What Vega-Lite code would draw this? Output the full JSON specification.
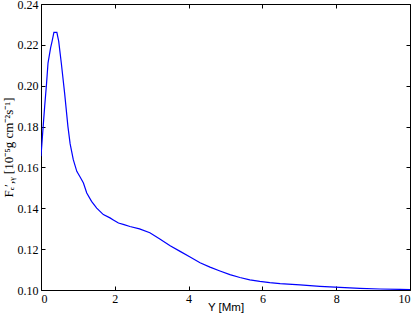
{
  "$schema": "https://vega.github.io/schema/vega-lite/v6.json",
  "width": 369,
  "height": 286,
  "autosize": {"type": "none"},
  "padding": {"left": 41, "top": 4, "right": 5, "bottom": 26},
  "background": "white",
  "config": {
    "view": {"stroke": "black", "strokeWidth": 1},
    "axis": {
      "domain": false,
      "grid": false,
      "ticks": true,
      "tickColor": "black",
      "tickSize": -4,
      "tickWidth": 1,
      "labelFont": "Liberation Serif",
      "labelFontSize": 12,
      "labelColor": "black",
      "labelPadding": 7,
      "titleColor": "black",
      "titleFontWeight": "normal"
    }
  },
  "data": {
    "values": [
      {"x": 0, "y": 0.1655},
      {"x": 0.05, "y": 0.178},
      {"x": 0.1, "y": 0.19},
      {"x": 0.15, "y": 0.201},
      {"x": 0.19, "y": 0.2111},
      {"x": 0.26, "y": 0.2185},
      {"x": 0.3, "y": 0.2217},
      {"x": 0.35, "y": 0.2261},
      {"x": 0.43, "y": 0.2261},
      {"x": 0.48, "y": 0.2217},
      {"x": 0.55, "y": 0.2111},
      {"x": 0.64, "y": 0.1964},
      {"x": 0.73, "y": 0.18},
      {"x": 0.79, "y": 0.1715},
      {"x": 0.875, "y": 0.1638},
      {"x": 0.97, "y": 0.1581},
      {"x": 1.06, "y": 0.1553},
      {"x": 1.15, "y": 0.1524},
      {"x": 1.24, "y": 0.1475},
      {"x": 1.37, "y": 0.1434},
      {"x": 1.51, "y": 0.1401},
      {"x": 1.69, "y": 0.1369},
      {"x": 1.87, "y": 0.1353},
      {"x": 1.96, "y": 0.1343},
      {"x": 2.1, "y": 0.1328},
      {"x": 2.25, "y": 0.132},
      {"x": 2.41, "y": 0.1311},
      {"x": 2.67, "y": 0.1299},
      {"x": 2.95, "y": 0.128},
      {"x": 3.22, "y": 0.125},
      {"x": 3.5, "y": 0.1217},
      {"x": 3.77, "y": 0.1189},
      {"x": 4.04, "y": 0.1162},
      {"x": 4.31, "y": 0.1133},
      {"x": 4.58, "y": 0.1112},
      {"x": 4.85, "y": 0.1093},
      {"x": 5.12, "y": 0.1075},
      {"x": 5.39, "y": 0.1061},
      {"x": 5.66, "y": 0.105},
      {"x": 5.93, "y": 0.1042},
      {"x": 6.2, "y": 0.1036},
      {"x": 6.48, "y": 0.1031},
      {"x": 7.02, "y": 0.1025},
      {"x": 7.56, "y": 0.1018},
      {"x": 8.1, "y": 0.1013},
      {"x": 8.64, "y": 0.1008},
      {"x": 9.19, "y": 0.1005},
      {"x": 9.73, "y": 0.1003},
      {"x": 10, "y": 0.1002}
    ]
  },
  "layer": [
    {
      "mark": {"type": "line", "color": "#0000ff", "strokeWidth": 1.2, "clip": true},
      "encoding": {
        "x": {
          "field": "x", "type": "quantitative",
          "scale": {"domain": [0, 10], "nice": false, "zero": false},
          "axis": {"orient": "bottom", "values": [0, 2, 4, 6, 8, 10], "title": "Y [Mm]", "titleFont": "Liberation Sans", "titleFontSize": 11.5, "titleBaseline": "alphabetic", "titleY": 20.5, "titleX": 184.5}
        },
        "y": {
          "field": "y", "type": "quantitative",
          "scale": {"domain": [0.1, 0.24], "nice": false, "zero": false},
          "axis": {"orient": "left", "values": [0.1, 0.12, 0.14, 0.16, 0.18, 0.2, 0.22, 0.24], "format": ".2f", "title": "Fₑ′,ᵧ [10⁻⁵g cm⁻²s⁻¹]", "titleFont": "Liberation Serif", "titleFontSize": 13, "titleBaseline": "middle", "titleAngle": 270, "titleX": -33, "titleY": 143}
        }
      }
    },
    {
      "mark": {"type": "line", "opacity": 0},
      "encoding": {
        "x": {
          "field": "x", "type": "quantitative",
          "scale": {"domain": [0, 10], "nice": false, "zero": false},
          "axis": {"orient": "top", "values": [0, 2, 4, 6, 8, 10], "labels": false, "title": null}
        },
        "y": {
          "field": "y", "type": "quantitative",
          "scale": {"domain": [0.1, 0.24], "nice": false, "zero": false},
          "axis": {"orient": "right", "values": [0.1, 0.12, 0.14, 0.16, 0.18, 0.2, 0.22, 0.24], "labels": false, "title": null}
        }
      }
    }
  ],
  "resolve": {"axis": {"x": "independent", "y": "independent"}}
}
